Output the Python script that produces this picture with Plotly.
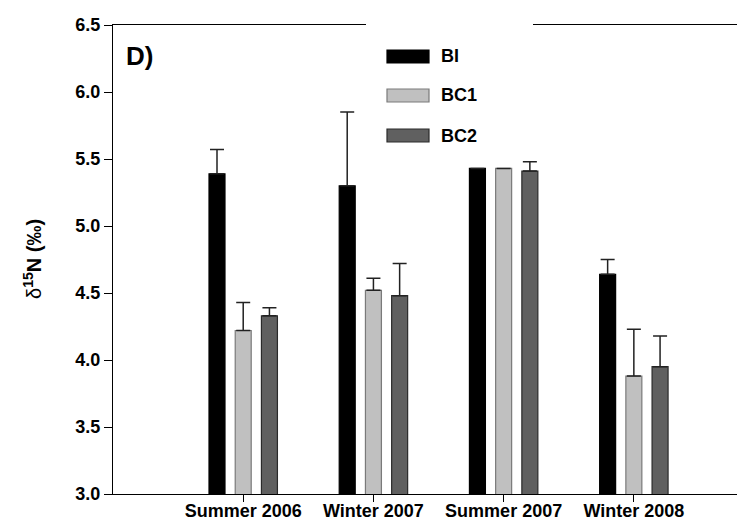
import plotly.graph_objects as go

categories = ["Summer 2006", "Winter 2007", "Summer 2007", "Winter 2008"]
series_names = ["BI", "BC1", "BC2"]
bi_values = [5.39, 5.30, 5.43, 4.64]
bi_err = [0.18, 0.55, None, 0.11]
bc1_values = [4.22, 4.52, 5.43, 3.88]
bc1_err = [0.21, 0.09, None, 0.35]
bc2_values = [4.33, 4.48, 5.41, 3.95]
bc2_err = [0.06, 0.24, 0.07, 0.23]
y_ticks = [3.0, 3.5, 4.0, 4.5, 5.0, 5.5, 6.0, 6.5]

FONT = "Liberation Sans, Arial, sans-serif"
fills = ["#000000", "#c0c0c0", "#606060"]
outlines = ["#000000", "#7a7a7a", "#2a2a2a"]

W, H = 745, 522
ML, MR, MT, MB = 105, 0, 17, 36
PW, PH = W - ML - MR, H - MT - MB


def px_x(p):
    return (p - ML) / PW


def px_y(p):
    return (H - MB - p) / PH


fig = go.Figure()
for name, vals, errs, fc, lc in zip(series_names, [bi_values, bc1_values, bc2_values],
                                    [bi_err, bc1_err, bc2_err], fills, outlines):
    fig.add_trace(go.Bar(
        x=categories, y=vals, name=name,
        marker=dict(color=fc, line=dict(color=lc, width=1.2)),
        error_y=dict(type="data", symmetric=False, array=errs,
                     arrayminus=[0 if e is not None else None for e in errs],
                     color="#222222", thickness=1.5, width=7),
        showlegend=False,
    ))

fig.update_layout(
    width=W, height=H,
    margin=dict(l=ML, r=MR, t=MT, b=MB),
    paper_bgcolor="white", plot_bgcolor="white",
    barmode="group", bargap=0.396, bargroupgap=0.39,
    font=dict(family=FONT, color="black", size=18),
    xaxis=dict(
        type="category", range=[-1.0, 3.915],
        showline=True, linecolor="black", linewidth=1.3, mirror=True,
        ticks="outside", ticklen=7, tickwidth=1.3, tickcolor="black",
        showgrid=False, zeroline=False, ticklabelstandoff=-7,
        tickfont=dict(family=FONT, size=18, color="black", weight="bold"),
    ),
    yaxis=dict(
        range=[3.0, 6.5], tickvals=y_ticks, tickformat=".1f",
        showline=True, linecolor="black", linewidth=1.3, mirror=False,
        ticks="outside", ticklen=8, tickwidth=1.3, tickcolor="black",
        showgrid=False, zeroline=False,
        tickfont=dict(family=FONT, size=18, color="black", weight="bold"),
    ),
)

shapes = []
# white legend background breaking the top frame line
shapes.append(dict(type="rect", xref="paper", yref="paper",
                   x0=px_x(358), x1=px_x(525), y0=px_y(30), y1=px_y(5),
                   fillcolor="white", line=dict(width=0), layer="above"))
annotations = []
legend_tops = [42, 81, 121]
for name, fc, lc, top in zip(series_names, fills, outlines, legend_tops):
    shapes.append(dict(type="rect", xref="paper", yref="paper",
                       x0=px_x(379), x1=px_x(421), y0=px_y(top + 13), y1=px_y(top),
                       fillcolor=fc, line=dict(color=lc, width=1.2), layer="above"))
    annotations.append(dict(xref="paper", yref="paper", x=px_x(431), y=px_y(top + 6.5),
                            text="<b>%s</b>" % name, showarrow=False,
                            xanchor="left", yanchor="middle",
                            font=dict(family=FONT, size=18, color="black")))

annotations.append(dict(xref="paper", yref="paper", x=px_x(116), y=px_y(31),
                        text="<b>D)</b>", showarrow=False, xanchor="left", yanchor="top",
                        font=dict(family=FONT, size=26, color="black")))
annotations.append(dict(xref="paper", yref="paper", x=px_x(24), y=px_y(251),
                        text="δ<b><sup>15</sup>N (‰)</b>", showarrow=False, textangle=-90,
                        xanchor="center", yanchor="middle",
                        font=dict(family=FONT, size=20, color="black")))

fig.update_layout(shapes=shapes, annotations=annotations)
fig.write_html("out.html")
